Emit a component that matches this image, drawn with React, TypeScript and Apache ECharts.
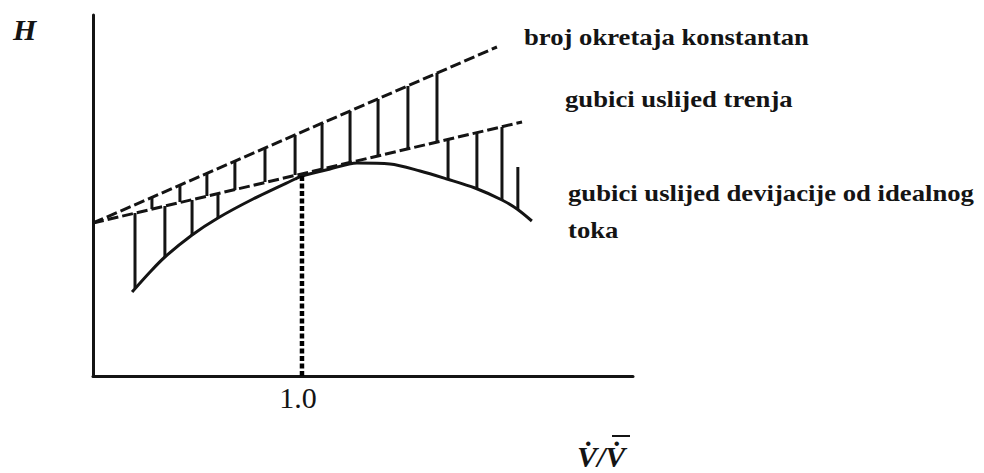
import React, { useEffect, useRef } from "react";
import * as echarts from "echarts";

// Axis ranges (relative flow on x, head on y)
const X_MAX = 2.584;
const Y_MAX = 3.61;

// Tick labels on the flow axis
const xTickValues = [1];
const xTickLabels = ["1.0"];

// Head at constant speed (theoretical, no losses)
const idealHead: [number, number][] = [
  [0, 1.53],
  [1.933, 3.29],
];

// Head after friction losses
const frictionHead: [number, number][] = [
  [0, 1.53],
  [2.053, 2.54],
];

// Real head curve (after deviation from ideal flow)
const realHead: [number, number][] = [
  [0.187, 0.84],
  [0.273, 1.04],
  [0.344, 1.19],
  [0.474, 1.41],
  [0.598, 1.58],
  [0.766, 1.77],
  [0.967, 1.97],
  [1.0, 2.0],
  [1.134, 2.07],
  [1.263, 2.13],
  [1.421, 2.12],
  [1.565, 2.05],
  [1.694, 1.97],
  [1.828, 1.88],
  [1.957, 1.76],
  [2.029, 1.67],
  [2.1, 1.55],
];

// Design point marker (V/V = 1.0)
const designLine: [number, number][] = [
  [1.0, 2.0],
  [1.0, 0],
];

// Hatching of friction losses: [x, upper head, lower head]
const frictionHatch: [number, number, number][] = [
  [0.282, 1.79, 1.67],
  [0.416, 1.91, 1.74],
  [0.545, 2.03, 1.8],
  [0.679, 2.15, 1.86],
  [0.823, 2.28, 1.94],
  [0.967, 2.41, 2.01],
  [1.096, 2.53, 2.07],
  [1.23, 2.65, 2.14],
  [1.364, 2.77, 2.2],
  [1.507, 2.9, 2.27],
  [1.646, 3.03, 2.34],
];

// Hatching of deviation losses: [x, upper head, lower head]
const deviationHatch: [number, number, number][] = [
  [0.201, 1.63, 0.88],
  [0.344, 1.7, 1.19],
  [0.474, 1.76, 1.41],
  [0.598, 1.82, 1.58],
  [1.699, 2.37, 1.97],
  [1.837, 2.43, 1.88],
  [1.957, 2.49, 1.76],
  [2.033, 2.09, 1.66],
];

const INK = "#141414";
const SERIF = "Liberation Serif";

const hatchRender = (_params: any, api: any) => {
  const a = api.coord([api.value(0), api.value(1)]);
  const b = api.coord([api.value(0), api.value(2)]);
  return {
    type: "line",
    shape: { x1: a[0], y1: a[1], x2: b[0], y2: b[1] },
    style: { stroke: INK, lineWidth: 3 },
  };
};

export default function App() {
  const ref = useRef<HTMLDivElement>(null);

  useEffect(() => {
    if (!ref.current) return;
    const chart = echarts.init(ref.current, undefined, { renderer: "svg" });

    const label = (text: string, x: number, y: number) => ({
      type: "text",
      x,
      y,
      scaleX: 1.16,
      style: {
        text,
        fontFamily: SERIF,
        fontWeight: "bold",
        fontSize: 23,
        fill: INK,
        textAlign: "left",
        textVerticalAlign: "middle",
      },
    });

    chart.setOption({
      animation: false,
      backgroundColor: "#ffffff",
      grid: { left: 93, right: 351, top: 15, bottom: 97 },
      xAxis: {
        type: "value",
        min: 0,
        max: X_MAX,
        interval: 1,
        axisLine: { show: true, lineStyle: { color: INK, width: 3 } },
        axisTick: { show: false },
        splitLine: { show: false },
        axisLabel: {
          show: true,
          margin: 6,
          color: INK,
          fontSize: 30,
          fontFamily: SERIF,
          padding: [0, 8, 0, 0],
          showMinLabel: false,
          showMaxLabel: false,
          formatter: (v: number) => {
            const i = xTickValues.findIndex((t) => Math.abs(t - v) < 1e-9);
            return i >= 0 ? xTickLabels[i] : "";
          },
        },
      },
      yAxis: {
        type: "value",
        min: 0,
        max: Y_MAX,
        axisLine: { show: true, lineStyle: { color: INK, width: 3 } },
        axisTick: { show: false },
        axisLabel: { show: false },
        splitLine: { show: false },
      },
      series: [
        {
          type: "line",
          data: idealHead,
          symbol: "none",
          lineStyle: { color: INK, width: 3, type: [11, 4] },
        },
        {
          type: "line",
          data: frictionHead,
          symbol: "none",
          lineStyle: { color: INK, width: 3, type: [11, 4] },
        },
        {
          type: "line",
          data: realHead,
          symbol: "none",
          smooth: 0.3,
          lineStyle: { color: INK, width: 3 },
        },
        {
          type: "line",
          data: designLine,
          symbol: "none",
          lineStyle: { color: "#000000", width: 4.5, type: [5, 2.5], cap: "butt" },
        },
        {
          type: "custom",
          renderItem: hatchRender,
          encode: { x: 0, y: [1, 2] },
          data: frictionHatch,
        },
        {
          type: "custom",
          renderItem: hatchRender,
          encode: { x: 0, y: [1, 2] },
          data: deviationHatch,
        },
      ],
      graphic: [
        {
          type: "text",
          x: 13,
          y: 29,
          style: {
            text: "H",
            fontFamily: SERIF,
            fontStyle: "italic",
            fontWeight: "bold",
            fontSize: 30,
            fill: INK,
            textAlign: "left",
            textVerticalAlign: "middle",
          },
        },
        label("broj okretaja konstantan", 524, 37),
        label("gubici uslijed trenja", 565, 99),
        label("gubici uslijed devijacije od idealnog", 568, 193),
        label("toka", 568, 230),
        {
          type: "text",
          x: 577,
          y: 456,
          style: {
            text: "V\u0307/V\u0307",
            fontFamily: SERIF,
            fontStyle: "italic",
            fontWeight: "bold",
            fontSize: 30,
            fill: INK,
            textAlign: "left",
            textVerticalAlign: "middle",
          },
        },
        {
          type: "line",
          shape: { x1: 612, y1: 436, x2: 630, y2: 436 },
          style: { stroke: INK, lineWidth: 2 },
        },
      ],
    });

    return () => chart.dispose();
  }, []);

  return (
    <div
      ref={ref}
      style={{ position: "absolute", left: 0, top: 0, width: 984, height: 473 }}
    />
  );
}
